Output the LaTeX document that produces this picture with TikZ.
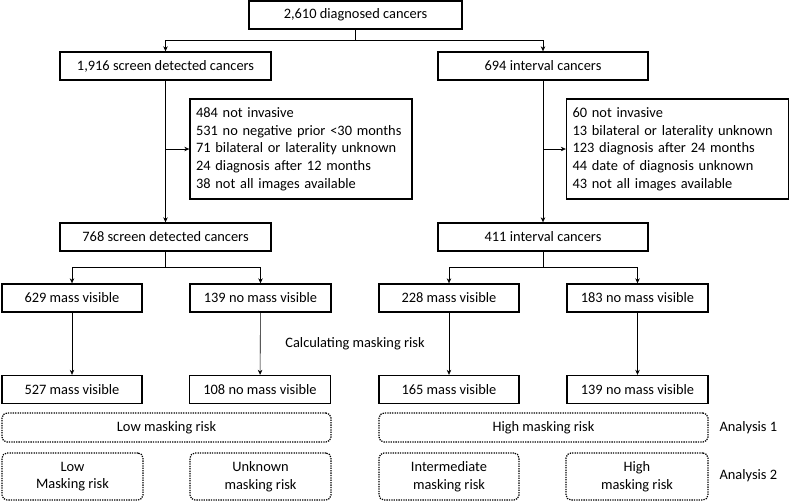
\documentclass[tikz,border=0pt]{standalone}
\usepackage{fontspec}
\setmainfont{Carlito}
\usetikzlibrary{arrows.meta}

\begin{document}
\begin{tikzpicture}[x=1pt,y=-1pt,box/.style={draw,line width=1.4pt,minimum height=28,inner sep=2pt,font=\fontsize{14.4}{17}\selectfont},excl/.style={draw,line width=1.4pt,text width=210,minimum height=100,inner sep=6pt,align=left,font=\fontsize{14.4}{17.7}\selectfont},risk/.style={draw,line width=1.2pt,dash pattern=on 1.3pt off 1.1pt,rounded corners=5pt,inner sep=2pt,align=center,font=\fontsize{14.4}{17.7}\selectfont},arr/.style={-{Stealth[length=5pt,width=4.5pt]},line width=.6pt},ln/.style={line width=.6pt}]

\useasboundingbox(0,0)rectangle(790,501);
% selection of the cancers
\node[box,minimum width=213](all)at(355.5,15){2,610 diagnosed cancers};
\node[box,minimum width=211](scr)at(165.5,66){1,916 screen detected cancers};
\node[box,minimum width=210](int)at(543,66){694 interval cancers};
\node[excl](exscr)at(301,149){484 not invasive\\531 no negative prior <30 months\\71 bilateral or laterality unknown\\24 diagnosis after 12 months\\38 not all images available};
\node[excl](exint)at(677.5,149){60 not invasive\\13 bilateral or laterality unknown\\123 diagnosis after 24 months\\44 date of diagnosis unknown\\43 not all images available};
\node[box,minimum width=211](scrsel)at(165.5,237){768 screen detected cancers};
\node[box,minimum width=210](intsel)at(543,237){411 interval cancers};
\coordinate(split)at(355.5,40);
\draw[ln](all)--(split);
\draw[arr](split)-|(scr);
\draw[arr](split)-|(int);
\draw[arr](scr)--(scrsel);
\draw[arr](int)--(intsel);
\draw[arr](scr|-exscr.west)--(exscr);
\draw[arr](int|-exint.west)--(exint);
% mass visible or not
\node[box,minimum width=140](scrmass)at(72,298){629 mass visible};
\node[box,minimum width=141](scrnomass)at(260.5,298){139 no mass visible};
\node[box,minimum width=140](intmass)at(449,298){228 mass visible};
\node[box,minimum width=141](intnomass)at(637.5,298){183 no mass visible};
\coordinate(scrsplit)at(165.5,267);
\coordinate(intsplit)at(543,267);
\draw[ln](scrsel)--(scrsplit);
\draw[ln](intsel)--(intsplit);
\draw[arr](scrsplit)-|(scrmass);
\draw[arr](scrsplit)-|(scrnomass);
\draw[arr](intsplit)-|(intmass);
\draw[arr](intsplit)-|(intnomass);
\node[font=\fontsize{14.4}{17}\selectfont](calc)at(355,344){Calculating masking risk};
\node[box,minimum width=140](scrmassB)at(72,389.5){527 mass visible};
\node[box,minimum width=141](scrnomassB)at(260,389.5){108 no mass visible};
\node[box,minimum width=140](intmassB)at(449,389.5){165 mass visible};
\node[box,minimum width=141](intnomassB)at(637.5,389.5){139 no mass visible};
\draw[arr](scrmass)--(scrmassB);
\draw[arr](scrnomass)--(scrnomassB);
\draw[arr](intmass)--(intmassB);
\draw[arr](intnomass)--(intnomassB);
% masking risk groups
\node[risk,minimum width=329,minimum height=29](lowA)at(166.5,427.5){Low masking risk};
\node[risk,minimum width=329,minimum height=29](highA)at(543.5,427.5){High masking risk};
\node[anchor=west,font=\fontsize{14.4}{17}\selectfont](anA)at(716,428){Analysis 1};
\node[risk,minimum width=141,minimum height=47](lowB)at(72.5,476.5){Low\\Masking risk};
\node[risk,minimum width=141,minimum height=47](unkB)at(260.5,476.5){Unknown\\masking risk};
\node[risk,minimum width=140,minimum height=47](intermB)at(449,476.5){Intermediate\\masking risk};
\node[risk,minimum width=142,minimum height=47](highB)at(637,476.5){High\\masking risk};
\node[anchor=west,font=\fontsize{14.4}{17}\selectfont](anB)at(716,476){Analysis 2};
\end{tikzpicture}
\end{document}
